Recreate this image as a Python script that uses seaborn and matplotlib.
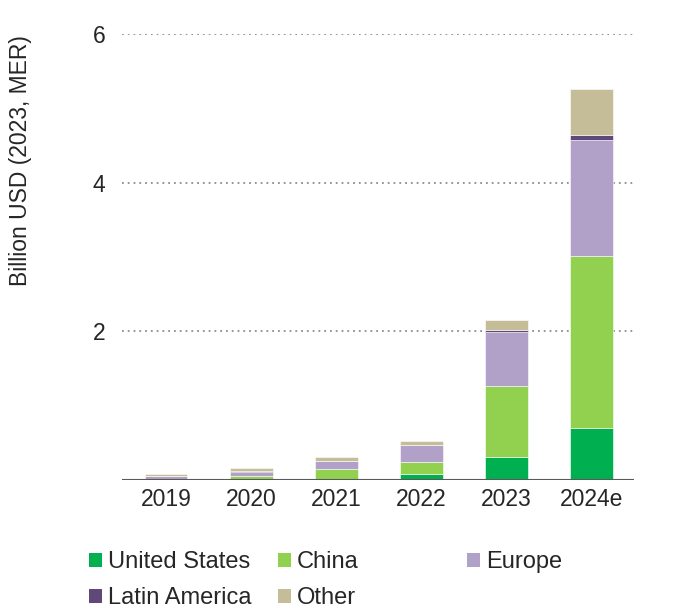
import seaborn as sns
import pandas as pd
import numpy as np
import matplotlib.pyplot as plt
from matplotlib.patches import Patch

years = ["2019", "2020", "2021", "2022", "2023", "2024e"]
united_states = [0.005, 0.008, 0.02, 0.085, 0.31, 0.70]
china = [0.015, 0.045, 0.13, 0.16, 0.96, 2.31]
europe = [0.03, 0.06, 0.10, 0.22, 0.72, 1.57]
latin_america = [0.003, 0.004, 0.005, 0.012, 0.025, 0.06]
other = [0.03, 0.04, 0.05, 0.05, 0.14, 0.62]

regions = ["United States", "China", "Europe", "Latin America", "Other"]
colors = ["#00B050", "#92D050", "#B1A0C7", "#60497A", "#C4BD97"]

df = pd.DataFrame({"Year": years, "United States": united_states, "China": china,
                   "Europe": europe, "Latin America": latin_america, "Other": other})

sns.set_theme(style="white")
plt.rcParams['font.family'] = ['Liberation Sans', 'DejaVu Sans']

fig = plt.figure(figsize=(6.82, 6.16), dpi=100)
ax = fig.add_axes([122 / 682, 1 - 480 / 616, 512 / 682, 446 / 616])

bottom = np.zeros(len(years))
for reg, col in zip(regions, colors):
    sns.barplot(data=df, x="Year", y=reg, color=col, saturation=1, bottom=bottom,
                width=0.5, edgecolor="white", linewidth=0.4, ax=ax, zorder=3)
    bottom = bottom + df[reg].values

ax.set_xlim(-0.52, 5.5)
ax.set_ylim(0, 6)
ax.set_yticks([2, 4, 6])
ax.set_xlabel("")
ax.set_ylabel("")
for y in [2, 4, 6]:
    ax.axhline(y, color="#8c8c8c", linestyle=(0, (1, 2.2)), linewidth=1.3, zorder=1)
ax.axhline(0, color="#595959", linewidth=1.5, zorder=4)
sns.despine(ax=ax, left=True, bottom=True)
ax.tick_params(axis="y", length=0, pad=12, labelsize=16.5, labelcolor="#262626")
ax.tick_params(axis="x", length=0, pad=6, labelsize=16.5, labelcolor="#262626")

fig.text(21 / 682, 1 - 161 / 616, "Billion USD (2023, MER)", rotation=90,
         ha="center", va="center", fontsize=16.5, color="#262626")

# legend in three columns with uneven spacing
handles = [Patch(facecolor=c, edgecolor="none") for c in colors]
cols = [([0, 3], 89), ([1, 4], 278), ([2], 467)]
for idx, xpix in cols:
    fig.legend([handles[i] for i in idx], [regions[i] for i in idx],
               loc="upper left", bbox_to_anchor=(xpix / 682, 1 - 551 / 616),
               frameon=False, fontsize=17, handlelength=0.55, handleheight=0.55,
               handletextpad=0.25, labelspacing=0.6, borderaxespad=0, borderpad=0,
               labelcolor="#262626")

plt.savefig("out.png", dpi=100)
